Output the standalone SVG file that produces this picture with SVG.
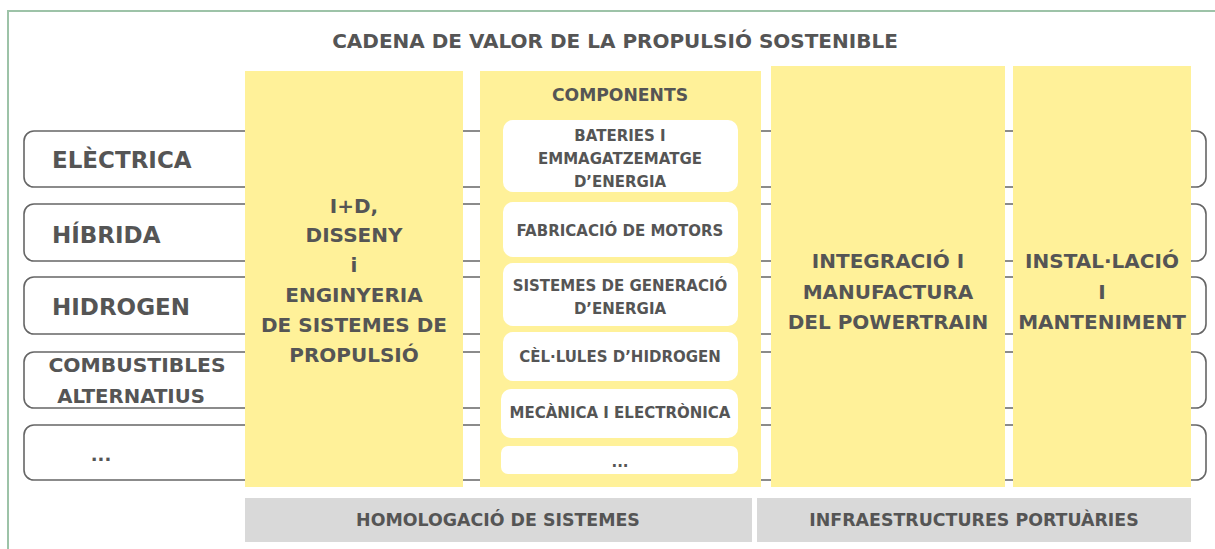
<svg xmlns="http://www.w3.org/2000/svg" width="1215" height="549" viewBox="0 0 1215 549">
<style>
text{font-family:"DejaVu Sans","Liberation Sans",sans-serif;font-weight:700;fill:#555555}
.row{fill:#ffffff;stroke:#666666;stroke-width:1.6}
.col{fill:#FFF199}
.comp{fill:#ffffff}
.bar{fill:#D9D9D9}
.lbl{font-size:23px}
.col-t{font-size:20px;text-anchor:middle}
.comp-t{font-size:15px;text-anchor:middle}
.bar-t{font-size:17.4px;text-anchor:middle}
</style>
<rect width="1215" height="549" fill="#ffffff"/>
<path d="M8,549 V11 H1215" fill="none" stroke="#9DC3A8" stroke-width="2"/>
<text x="615" y="48" font-size="20" text-anchor="middle">CADENA DE VALOR DE LA PROPULSIÓ SOSTENIBLE</text>
<g id="rows">
<g id="row-electrica"><rect class="row" x="24" y="131" width="1182" height="56" rx="10"/><text class="lbl" x="52" y="168">ELÈCTRICA</text></g>
<g id="row-hibrida"><rect class="row" x="24" y="204" width="1182" height="57" rx="10"/><text class="lbl" x="52" y="243">HÍBRIDA</text></g>
<g id="row-hidrogen"><rect class="row" x="24" y="277" width="1182" height="57" rx="10"/><text class="lbl" x="52" y="315">HIDROGEN</text></g>
<g id="row-combustibles"><rect class="row" x="24" y="352" width="1182" height="56" rx="10"/><text x="137" y="372" text-anchor="middle" font-size="20.3">COMBUSTIBLES</text><text x="131" y="403" text-anchor="middle" font-size="19.7">ALTERNATIUS</text></g>
<g id="row-more"><rect class="row" x="24" y="425" width="1182" height="55" rx="10"/><text x="101" y="461" text-anchor="middle" font-size="18">...</text></g>
</g>
<g id="connectors"></g>
<g id="col-rd"><rect class="col" x="245" y="71" width="218" height="416"/>
<text class="col-t" x="354" y="213">I+D,</text>
<text class="col-t" x="354" y="242">DISSENY</text>
<text class="col-t" x="354" y="272">i</text>
<text class="col-t" x="354" y="302">ENGINYERIA</text>
<text class="col-t" x="354" y="332">DE SISTEMES DE</text>
<text class="col-t" x="354" y="362">PROPULSIÓ</text>
</g>
<g id="col-components"><rect class="col" x="480" y="71" width="281" height="416"/>
<text x="620" y="101" font-size="17.2" text-anchor="middle">COMPONENTS</text>
<g id="comp-bateries"><rect class="comp" x="503" y="120" width="235" height="72" rx="10"/><text class="comp-t" x="620" y="141">BATERIES I</text><text class="comp-t" x="620" y="164">EMMAGATZEMATGE</text><text class="comp-t" x="620" y="187">D’ENERGIA</text></g>
<g id="comp-motors"><rect class="comp" x="503" y="202" width="235" height="55" rx="10"/><text class="comp-t" x="620" y="236">FABRICACIÓ DE MOTORS</text></g>
<g id="comp-generacio"><rect class="comp" x="503" y="263" width="235" height="63" rx="10"/><text class="comp-t" x="620" y="291">SISTEMES DE GENERACIÓ</text><text class="comp-t" x="620" y="314">D’ENERGIA</text></g>
<g id="comp-cellules"><rect class="comp" x="503" y="332" width="235" height="49" rx="10"/><text class="comp-t" x="620" y="362">CÈL·LULES D’HIDROGEN</text></g>
<g id="comp-mecanica"><rect class="comp" x="501" y="389" width="237" height="49" rx="10"/><text class="comp-t" x="620" y="418">MECÀNICA I ELECTRÒNICA</text></g>
<g id="comp-more"><rect class="comp" x="501" y="446" width="237" height="28" rx="7"/><text class="comp-t" x="620" y="467">...</text></g>
</g>
<g id="col-integracio"><rect class="col" x="771" y="66" width="234" height="421"/>
<text class="col-t" x="888" y="268">INTEGRACIÓ I</text>
<text class="col-t" x="888" y="299">MANUFACTURA</text>
<text class="col-t" x="888" y="329">DEL POWERTRAIN</text>
</g>
<g id="col-installacio"><rect class="col" x="1013" y="66" width="178" height="421"/>
<text class="col-t" x="1102" y="268">INSTAL·LACIÓ</text>
<text class="col-t" x="1102" y="299">I</text>
<text class="col-t" x="1102" y="329">MANTENIMENT</text>
</g>
<g id="bar-homologacio"><rect class="bar" x="245" y="498" width="507" height="44"/><text class="bar-t" x="498" y="526">HOMOLOGACIÓ DE SISTEMES</text></g>
<g id="bar-infra"><rect class="bar" x="757" y="498" width="434" height="44"/><text class="bar-t" x="974" y="526">INFRAESTRUCTURES PORTUÀRIES</text></g>
</svg>
